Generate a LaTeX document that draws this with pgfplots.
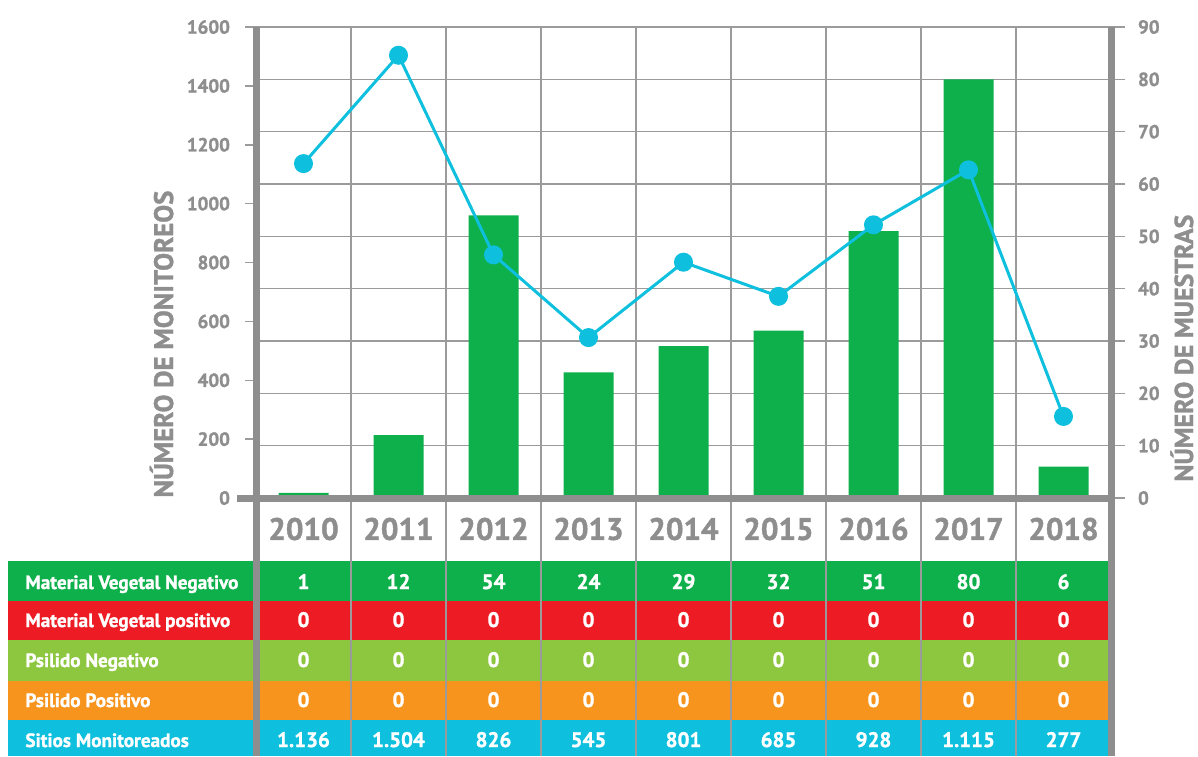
\documentclass[border=0pt]{standalone}
\usepackage{fontspec}
\setmainfont{PT Sans}[BoldFeatures={FakeBold=1.3}]
\usepackage{pgfplots}
\pgfplotsset{compat=1.18}
\definecolor{axgray}{RGB}{141,142,141}
\definecolor{gridgray}{RGB}{155,155,155}
\definecolor{mvneg}{RGB}{13,176,75}
\definecolor{mvpos}{RGB}{237,28,36}
\definecolor{psneg}{RGB}{141,198,63}
\definecolor{pspos}{RGB}{247,148,29}
\definecolor{sitios}{RGB}{14,191,222}
\begin{document}
\begin{tikzpicture}
\useasboundingbox (0,0) rectangle (599pt,-378pt);
\begin{scope}[x=0.5pt,y=-0.5pt]
\fill[mvneg] (8,561) rectangle (1111,601);
\fill[mvpos] (8,601) rectangle (1111,640);
\fill[psneg] (8,640) rectangle (1111,681);
\fill[pspos] (8,681) rectangle (1111,720);
\fill[sitios] (8,720) rectangle (1111,756);
\foreach \k in {1,...,8} {
  \draw[gridgray, line width=0.75pt] ({256+95*\k},27) -- ({256+95*\k},756);
}
\end{scope}

% right axis: Material Vegetal Negativo (bars)
\begin{axis}[
  at={(128pt,-249pt)}, anchor=south west,
  scale only axis, width=427.5pt, height=235.5pt,
  xmin=-0.5, xmax=8.5, ymin=0, ymax=90,
  axis x line=none, axis y line*=right,
  axis line style={draw=none},
  ytick={0,10,...,90},
  ymajorgrids, major grid style={draw=gridgray, line width=0.75pt},
  ytick style={draw=gridgray, line width=0.75pt},
  tick align=outside, major tick length=7pt,
  yticklabel style={font=\fontsize{9.5}{10}\selectfont\bfseries, text=axgray, xshift=3pt},
  /pgf/number format/assume math mode=true,
  /pgf/number format/1000 sep={},
]
\addplot[ybar, bar width=25pt, fill=mvneg, draw=none] coordinates {
(0,1) (1,12) (2,54) (3,24) (4,29) (5,32) (6,51) (7,80) (8,6)};
\end{axis}

% left axis: Sitios Monitoreados (line)
\begin{axis}[
  at={(128pt,-249pt)}, anchor=south west,
  scale only axis, width=427.5pt, height=235.5pt,
  xmin=-0.5, xmax=8.5, ymin=0, ymax=1600,
  axis y line*=left, axis x line*=bottom,
  axis line style={draw=none},
  xtick={0,...,8},
  xticklabels={2010,2011,2012,2013,2014,2015,2016,2017,2018},
  xtick style={draw=none},
  xticklabel style={anchor=center, yshift=-10pt, font=\fontsize{15.5}{16}\selectfont\bfseries, text=axgray},
  ytick={0,200,...,1600},
  ytick style={draw=gridgray, line width=0.75pt},
  tick align=outside, major tick length=5.5pt,
  yticklabel style={font=\fontsize{9.5}{10}\selectfont\bfseries, text=axgray, xshift=-4pt},
  /pgf/number format/assume math mode=true,
  /pgf/number format/1000 sep={},
]
\addplot[sitios, line width=1.5pt, mark=*, mark size=4pt, mark options={fill=sitios, draw=sitios}] coordinates {
(0,1136) (1,1504) (2,826) (3,545) (4,801) (5,685) (6,928) (7,1115) (8,277)};
\end{axis}

\begin{scope}[x=0.5pt,y=-0.5pt]
\draw[axgray, line width=3.5pt] (256,27) -- (256,756);
\draw[axgray, line width=3.5pt] (1111,27) -- (1111,756);
\draw[axgray, line width=3.5pt] (237,498) -- (1111,498);
\node[rotate=90, anchor=base west, inner sep=0pt, text=axgray, font=\fontsize{13.4}{13}\selectfont\bfseries] at (173,498) {NÚMERO DE MONITOREOS};
\node[rotate=90, anchor=base west, inner sep=0pt, text=axgray, font=\fontsize{13}{13}\selectfont\bfseries] at (1193,482) {NÚMERO DE MUESTRAS};
\tikzset{lab/.style={anchor=base west, inner sep=0pt, text=white, font=\fontsize{9.6}{9.6}\selectfont\bfseries},
         num/.style={anchor=base, inner sep=0pt, text=white, font=\fontsize{10.5}{10.5}\selectfont\bfseries}}
\node[lab] at (25,589) {Material Vegetal Negativo};
\node[lab] at (25,627) {Material Vegetal positivo};
\node[lab] at (25,667) {Psilido Negativo};
\node[lab] at (25,707) {Psilido Positivo};
\node[lab] at (25,747) {Sitios Monitoreados};
\foreach \v [count=\i from 0] in {1,12,54,24,29,32,51,80,6} {
  \node[num] at ({303.5+95*\i},589) {\v};
  \node[num] at ({303.5+95*\i},627) {0};
  \node[num] at ({303.5+95*\i},667) {0};
  \node[num] at ({303.5+95*\i},707) {0};
}
\foreach \v [count=\i from 0] in {1.136,1.504,826,545,801,685,928,1.115,277} {
  \node[num] at ({303.5+95*\i},747) {\v};
}
\end{scope}
\end{tikzpicture}
\end{document}
